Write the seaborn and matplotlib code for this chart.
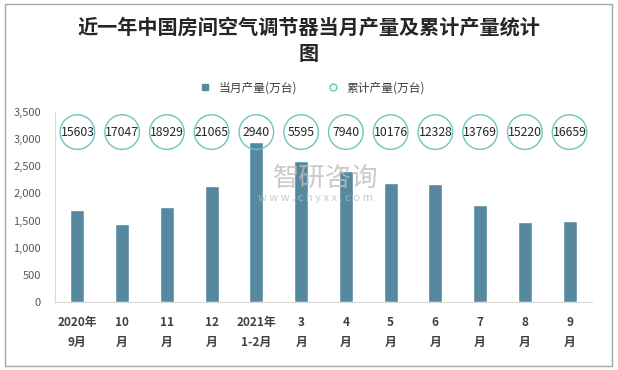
import numpy as np
import pandas as pd
import matplotlib
matplotlib.use('Agg')
import matplotlib.pyplot as plt
from matplotlib.lines import Line2D
from matplotlib.patches import Rectangle
import seaborn as sns

# Data
months = ['2020年\n9月', '10\n月', '11\n月', '12\n月', '2021年\n1-2月', '3\n月',
          '4\n月', '5\n月', '6\n月', '7\n月', '8\n月', '9\n月']
monthly = [1700, 1440, 1755, 2145, 2940, 2590, 2405, 2200, 2165, 1795, 1480, 1500]
cumulative = [15603, 17047, 18929, 21065, 2940, 5595, 7940, 10176, 12328, 13769, 15220, 16659]

df = pd.DataFrame({'month': months, 'monthly': monthly, 'cumulative': cumulative})

sns.set_style('white')
plt.rcParams['font.family'] = ['Noto Sans CJK SC', 'DejaVu Sans']

bar_color = '#56899f'
ring_color = '#6cc5bf'
label_level = 3130  # height at which the cumulative rings sit

fig = plt.figure(figsize=(6.18, 3.70), dpi=100)
ax = fig.add_axes([55 / 618, 68 / 370, 537 / 618, 190 / 370])

sns.barplot(data=df, x='month', y='monthly', color=bar_color, width=0.31,
            saturation=1, ax=ax)

# cumulative values as rings with text inside
pos = np.arange(len(months))
ax.scatter(pos, [label_level] * len(pos), s=620, facecolor='none',
           edgecolor=ring_color, linewidth=1.0, zorder=3)
for i, v in enumerate(df['cumulative']):
    ax.text(i, label_level, str(v), ha='center', va='center', fontsize=8.8,
            color='#262626', zorder=4)

ax.set_ylim(0, 3500)
ax.set_xlim(-0.5, len(months) - 0.5)
ax.set_yticks(range(0, 3501, 500))
ax.set_yticklabels([f'{t:,}' for t in range(0, 3501, 500)], fontsize=8, color='#595959')
ax.set_xticks(pos)
ax.set_xticklabels(months, fontsize=8.5, fontweight='bold', color='#404040',
                   linespacing=1.75)
ax.set_xticks(np.arange(-0.5, len(months)), minor=True)
ax.tick_params(axis='x', which='major', length=0, pad=10)
ax.tick_params(axis='x', which='minor', length=5, color='#d9d9d9', direction='out')
ax.tick_params(axis='y', length=0, pad=10)
ax.set_xlabel('')
ax.set_ylabel('')
for s in ['top', 'right']:
    ax.spines[s].set_visible(False)
ax.spines['left'].set_color('#d9d9d9')
ax.spines['bottom'].set_color('#d9d9d9')

# watermark
fig.text(0.527, 1 - 178 / 370, '智研咨询', fontsize=19, color='#bdbdbd', alpha=0.8,
         ha='center', va='center')
fig.text(0.51, 1 - 198 / 370, 'w w w . c h y x x . c o m', fontsize=8, color='#bdbdbd',
         alpha=0.8, ha='center', va='center')

# title and legend
fig.text(0.5, 1 - 27 / 370, '近一年中国房间空气调节器当月产量及累计产量统计',
         ha='center', va='center', fontsize=14.5, fontweight='bold', color='#262626')
fig.text(0.5, 1 - 53 / 370, '图', ha='center', va='center', fontsize=14.5,
         fontweight='bold', color='#262626')

handles = [
    Line2D([], [], marker='s', linestyle='', markersize=5, color=bar_color,
           label='当月产量(万台)'),
    Line2D([], [], marker='o', linestyle='', markersize=5, markerfacecolor='white',
           markeredgecolor=ring_color, label='累计产量(万台)'),
]
fig.legend(handles=handles, loc='center', bbox_to_anchor=(0.5, 1 - 88 / 370),
           ncol=2, frameon=False, fontsize=8.5, handletextpad=0.2, columnspacing=2.0,
           labelcolor='#404040')

# outer frame
fig.patches.append(Rectangle((5 / 618, 4 / 370), 607 / 618, 362 / 370,
                             transform=fig.transFigure, fill=False,
                             edgecolor='#a6a6a6', linewidth=1.0))

fig.savefig('out.png', dpi=100)
